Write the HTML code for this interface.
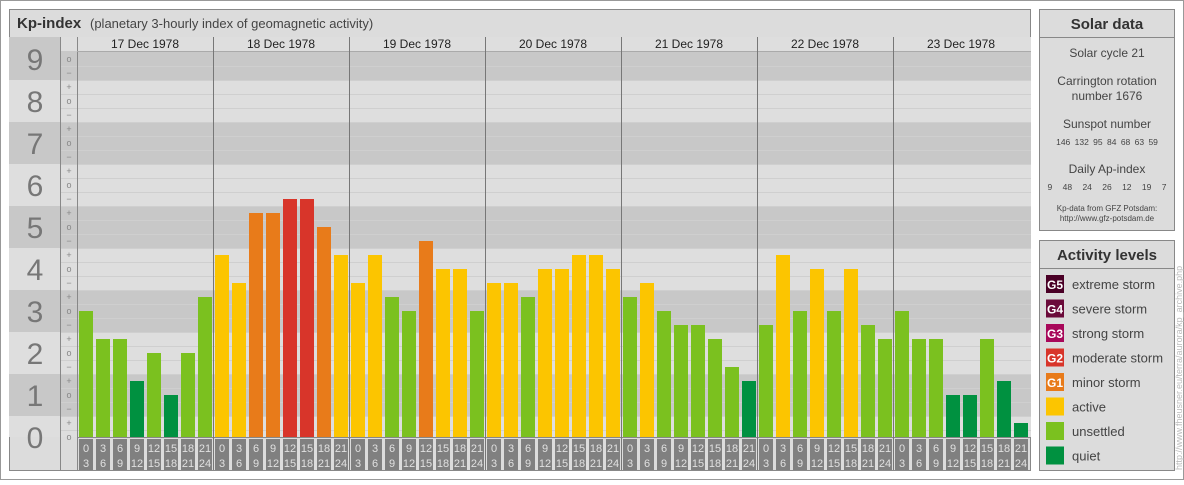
<!DOCTYPE html>
<html><head><meta charset="utf-8"><style>
html,body{margin:0;padding:0;background:#fff}
body{width:1184px;height:480px;overflow:hidden;font-family:"Liberation Sans",sans-serif}
</style></head><body>
<svg id="s" width="1184" height="480" xmlns="http://www.w3.org/2000/svg" font-family="Liberation Sans, sans-serif">
<rect x="0.5" y="0.5" width="1183" height="479" fill="#fff" stroke="#999"/>
<rect x="9.5" y="9.5" width="1021" height="461" fill="#dcdcdc" stroke="#888"/>
<line x1="9" y1="37.5" x2="1031" y2="37.5" stroke="#888"/>
<text x="17" y="28" font-size="15" font-weight="bold" fill="#333">Kp-index</text>
<text x="90" y="28" font-size="13" fill="#444">(planetary 3-hourly index of geomagnetic activity)</text>
<g id="plot"></g>
<g>
<rect x="1039.5" y="9.5" width="135" height="221" fill="#dcdcdc" stroke="#888"/>
<line x1="1039" y1="37.5" x2="1175" y2="37.5" stroke="#888"/>
<text x="1107" y="29" font-size="15" font-weight="bold" fill="#333" text-anchor="middle">Solar data</text>
<text x="1107" y="57" font-size="12" fill="#444" text-anchor="middle">Solar cycle 21</text>
<text x="1107" y="85" font-size="12" fill="#444" text-anchor="middle">Carrington rotation</text>
<text x="1107" y="100" font-size="12" fill="#444" text-anchor="middle">number 1676</text>
<text x="1107" y="128" font-size="12" fill="#444" text-anchor="middle">Sunspot number</text>
<text x="1107" y="145" font-size="8.5" fill="#444" text-anchor="middle" word-spacing="2">146 132 95 84 68 63 59</text>
<text x="1107" y="173" font-size="12" fill="#444" text-anchor="middle">Daily Ap-index</text>
<text x="1107" y="190" font-size="8.5" fill="#444" text-anchor="middle" word-spacing="8">9 48 24 26 12 19 7</text>
<text x="1107" y="211" font-size="8" fill="#444" text-anchor="middle">Kp-data from GFZ Potsdam:</text>
<text x="1107" y="221" font-size="8" fill="#444" text-anchor="middle">http://www.gfz-potsdam.de</text>
</g>
<g>
<rect x="1039.5" y="240.5" width="135" height="230" fill="#dcdcdc" stroke="#888"/>
<line x1="1039" y1="268.5" x2="1175" y2="268.5" stroke="#888"/>
<text x="1107" y="260" font-size="15" font-weight="bold" fill="#333" text-anchor="middle">Activity levels</text>
<g id="leg"></g>
</g>
<text transform="translate(1182,470) rotate(-90)" font-size="9" fill="#bbb">http://www.fheusner.eu/terra/aurora/kp_archive.php</text>
</svg>
<script>
const days=["17 Dec 1978","18 Dec 1978","19 Dec 1978","20 Dec 1978","21 Dec 1978","22 Dec 1978","23 Dec 1978"];
const kpThirds=[
9,7,7,4,6,3,6,10,
13,11,16,16,17,17,15,13,
11,13,10,9,14,12,12,9,
11,11,10,12,12,13,13,12,
10,11,9,8,8,7,5,4,
8,13,9,12,9,12,8,7,
9,7,7,3,3,7,4,1];
const hourStart=["0","3","6","9","12","15","18","21"];
const hourEnd=["3","6","9","12","15","18","21","24"];
const levels=[0,1,2,3,4,5,6,7,8,9];
const legendNames=["extreme storm","severe storm","strong storm","moderate storm","minor storm","active","unsettled","quiet"];
const legendCodes=["G5","G4","G3","G2","G1","","",""];
const legendColors=["#4a0026","#6b0a3a","#a8085a","#d8352a","#e87b1a","#fcc500","#7bc11f","#009140"];

const NS="http://www.w3.org/2000/svg";
const P=document.getElementById('plot');
const X0=77,X1=1031,Y0=51,YB=437,T=14,DW=136,BW=17;
const yv=t=>YB-t*T;
function mk(tag,a,parent){const e=document.createElementNS(NS,tag);for(const k in a)e.setAttribute(k,a[k]);(parent||P).appendChild(e);return e;}
function col(t){if(t<=4)return legendColors[7];if(t<=10)return legendColors[6];if(t<=13)return legendColors[5];if(t<=16)return legendColors[4];if(t<=19)return legendColors[3];if(t<=22)return legendColors[2];if(t<=25)return legendColors[1];return legendColors[0];}
// bands
levels.forEach(n=>{
  let top=Math.max(Y0,yv(3*n)-21), bot=Math.min(YB,yv(3*n)+21);
  if(n===9) top=37;
  const dark=n%2===1;
  const b=mk('rect',{x:9,y:top,width:X1-9,height:bot-top,fill:dark?'#c8c8c8':'#dedede'});
  
  const d=mk('text',{x:35,y:yv(3*n)+11,'font-size':30,fill:'#777','text-anchor':'middle'});
  d.textContent=n;
  
});
// header row over plot
mk('rect',{x:X0,y:37,width:X1-X0,height:14,fill:'#dedede'});
mk('rect',{x:60,y:37,width:17,height:14,fill:'#dedede'});
// grid lines & sub ticks
for(let t=0;t<=27;t++){
  if(t<27) mk('line',{x1:60,x2:X1,y1:yv(t)-7+.5,y2:yv(t)-7+.5,stroke:'#cfcfcf'});
  const s=mk('text',{x:69,y:yv(t)+3,'font-size':9,fill:'#888','text-anchor':'middle'});
  s.textContent=['o','+','\u2212'][t%3];
  
}
mk('line',{x1:60.5,x2:60.5,y1:37,y2:470,stroke:'#888'});
mk('line',{x1:X0+.5,x2:X0+.5,y1:37,y2:470,stroke:'#888'});
mk('line',{x1:X0,x2:X1,y1:51.5,y2:51.5,stroke:'#aaa'});
mk('line',{x1:X0,x2:X1,y1:YB+.5,y2:YB+.5,stroke:'#888'});
days.forEach((d,i)=>{
  const dx=X0+i*DW;
  if(i>0){mk('line',{x1:dx+.5,x2:dx+.5,y1:37,y2:470,stroke:'#777'});}
  const t=mk('text',{x:dx+DW/2,y:48,'font-size':12,fill:'#222','text-anchor':'middle'});
  t.textContent=d;
  
});
kpThirds.forEach((v,i)=>{
  const di=Math.floor(i/8),j=i%8;
  const x=X0+di*DW+j*BW+2;
  const r=mk('rect',{x:x,y:yv(v),width:14,height:YB-yv(v),fill:col(v)});
  
  const b=mk('rect',{x:x,y:439,width:14,height:31,fill:'#808080'});
  
  const t1=mk('text',{x:x+7,y:452,'font-size':11,fill:'#e0e0e0','text-anchor':'middle'});t1.textContent=hourStart[j];
  const t2=mk('text',{x:x+7,y:467,'font-size':11,fill:'#e0e0e0','text-anchor':'middle'});t2.textContent=hourEnd[j];
});
const L=document.getElementById('leg');
legendNames.forEach((n,i)=>{
  const y=284+i*24.5;
  const r=mk('rect',{x:1046,y:y-9,width:18,height:18,fill:legendColors[i]},L);
  
  if(legendCodes[i]){const c=mk('text',{x:1055,y:y+5,'font-size':12,'font-weight':'bold',fill:'#fff','text-anchor':'middle'},L);c.textContent=legendCodes[i];}
  const t=mk('text',{x:1072,y:y+5,'font-size':13,fill:'#444'},L);t.textContent=n;
  
});
</script>
</body></html>
